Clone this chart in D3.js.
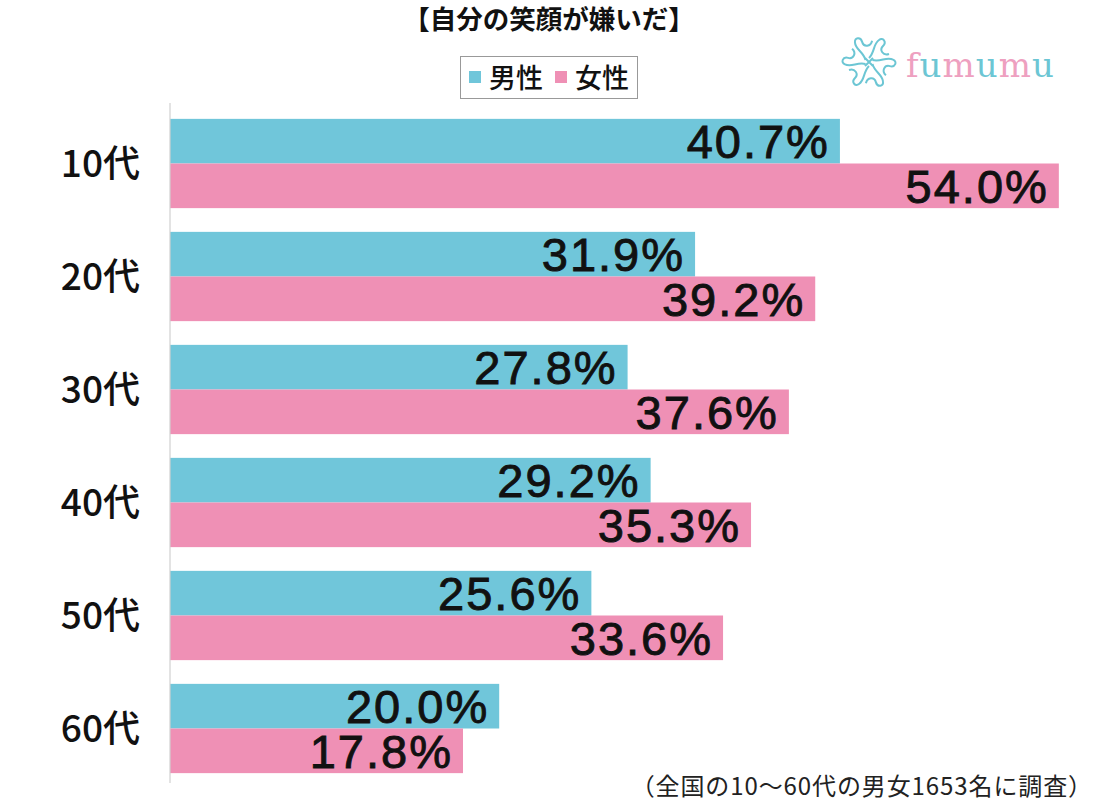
<!DOCTYPE html>
<html><head><meta charset="utf-8">
<script src="https://cdn.jsdelivr.net/npm/d3@7"></script>
<style>
html,body{margin:0;padding:0;background:#fff;}
text{font-family:"Noto Sans CJK JP","Noto Sans",sans-serif;}
</style></head>
<body><svg id="c" width="1102" height="800"></svg>
<script>
const categories = ["10代","20代","30代","40代","50代","60代"];
const seriesNames = ["男性","女性"];
const maleValues = [40.7,31.9,27.8,29.2,25.6,20.0];
const femaleValues = [54.0,39.2,37.6,35.3,33.6,17.8];
const colors = ["#70c6da","#ef90b5"];
const title = "【自分の笑顔が嫌いだ】";
const footnote = "（全国の10～60代の男女1653名に調査）";

const svg = d3.select("#c");
const W = 1102, H = 800;
svg.append("rect").attr("width",W).attr("height",H).attr("fill","#fff");

const x = d3.scaleLinear().domain([0,60]).range([170, 170+60*16.46]);
const y0 = d3.scaleBand().domain(categories).range([107,785]).paddingInner(0.21).paddingOuter(0.105);
const y1 = d3.scaleBand().domain(seriesNames).range([0, y0.bandwidth()]);

const data = categories.map((c,i)=>({cat:c, vals:[{s:"男性",v:maleValues[i]},{s:"女性",v:femaleValues[i]}]}));

const g = svg.append("g");
const groups = g.selectAll("g.grp").data(data).enter().append("g")
  .attr("transform", d=>`translate(0,${y0(d.cat)})`);

groups.selectAll("rect").data(d=>d.vals).enter().append("rect")
  .attr("x", x(0)).attr("y", d=>y1(d.s))
  .attr("width", d=>x(d.v)-x(0)).attr("height", y1.bandwidth())
  .attr("fill", (d,i)=>colors[i]);

groups.selectAll("text.val").data(d=>d.vals).enter().append("text")
  .attr("class","val")
  .attr("x", d=>x(d.v)-10).attr("y", d=>y1(d.s)+y1.bandwidth()/2)
  .attr("dy","0.36em")
  .attr("text-anchor","end")
  .attr("font-size",47).attr("fill","#111")
  .attr("stroke","#111").attr("stroke-width",0.9)
  .attr("letter-spacing",2)
  .style("font-family","'Liberation Sans',Arial,sans-serif")
  .text(d=>d.v.toFixed(1)+"%");

// axis
const axis = d3.axisLeft(y0).tickSize(0).tickPadding(30);
const ag = svg.append("g").attr("transform",`translate(${x(0)},0)`).call(axis);
ag.select(".domain").attr("stroke","#d0d0d0").attr("stroke-width",1.2).attr("d",`M0,103V783`);
ag.selectAll(".tick text").attr("font-size",37).attr("font-weight",500).attr("fill","#111")
  .attr("dy","0.36em")
  .style("font-family","'Noto Sans CJK JP',sans-serif");

// title
svg.append("text").attr("x",549).attr("y",29).attr("text-anchor","middle")
  .attr("font-size",26.5).attr("font-weight",700).attr("fill","#111").text(title);

// legend
const lg = svg.append("g");
lg.append("rect").attr("x",460.5).attr("y",56.5).attr("width",177).attr("height",42)
  .attr("fill","#fff").attr("stroke","#999").attr("stroke-width",1);
const legX = [469, 555];
seriesNames.forEach((s,i)=>{
  lg.append("rect").attr("x",legX[i]).attr("y",71).attr("width",12).attr("height",12).attr("fill",colors[i]);
  lg.append("text").attr("x",legX[i]+20).attr("y",88).attr("font-size",27).attr("font-weight",500)
    .attr("fill","#111").text(s);
});

// logo
const logo = svg.append("g").attr("transform","translate(869,62)");
for(let k=0;k<6;k++){
  const a = k*60;
  logo.append("path").attr("transform",`rotate(${a})`)
    .attr("d","M0,-4 C6,-10 4,-18 10,-22 C14,-25 18,-20 14,-16 C10,-12 14,-6 20,-8")
    .attr("fill","none").attr("stroke","#6cc6d4").attr("stroke-width",2);
}
logo.append("path").attr("d","M-4,-4 L4,4 M4,-4 L-4,4").attr("stroke","#6cc6d4").attr("stroke-width",2);
const lt = svg.append("text").attr("x",906).attr("y",77).attr("font-size",34)
  .style("font-family","'DejaVu Serif','Liberation Serif',serif").attr("letter-spacing",1);
"fumumu".split("").forEach((ch,i)=>{
  lt.append("tspan").attr("fill", i%2===0 ? "#eea0c0" : "#6cc6d4").text(ch);
});

// footnote
svg.append("text").attr("x",1093).attr("y",795).attr("text-anchor","end")
  .attr("font-size",24).attr("fill","#222").attr("letter-spacing",0.9).text(footnote);
</script></body></html>
